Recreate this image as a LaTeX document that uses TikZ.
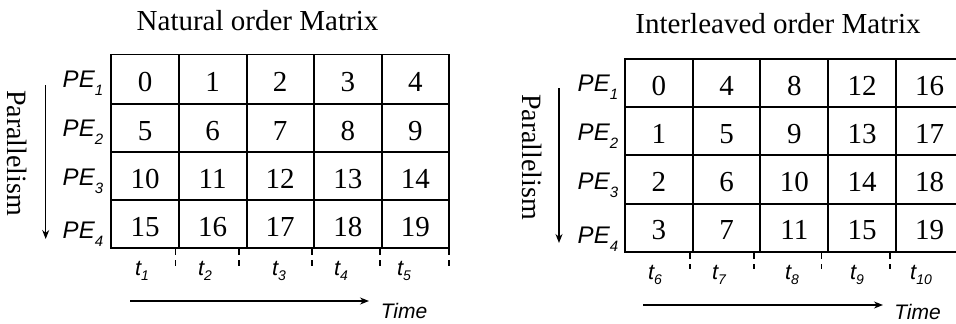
\documentclass[tikz,border=0pt]{standalone}
\usepackage{fontspec}
\setmainfont{Liberation Serif}
\newfontfamily\labfont{Liberation Sans}
\usetikzlibrary{arrows.meta}
\newcommand\pesub[1]{\raisebox{-8pt}{\fontsize{15}{15}\selectfont #1}}
\newcommand\tsub[1]{\raisebox{-5pt}{\fontsize{14}{14}\selectfont #1}}
\begin{document}
\begin{tikzpicture}[x=1pt,y=-1pt,line width=1.8pt,
  titlelab/.style={anchor=base,inner sep=0pt,font=\fontsize{29}{31}\selectfont},
  cellnum/.style={anchor=base,inner sep=0pt,font=\fontsize{29}{31}\selectfont},
  pelab/.style={anchor=base east,inner sep=0pt,font=\labfont\itshape\fontsize{24}{26}\selectfont},
  tlab/.style={anchor=base,inner sep=0pt,font=\labfont\itshape\fontsize{22}{24}\selectfont},
  timelab/.style={anchor=base,inner sep=0pt,font=\labfont\itshape\fontsize{21}{23}\selectfont},
  parlab/.style={rotate=-90,inner sep=0pt,font=\fontsize{28}{30}\selectfont},
  tickline/.style={line width=1.3pt,dash pattern=on 6pt off 5pt},
  flowarrow/.style={line width=1.4pt,-{Stealth[length=9pt,width=7pt]}}]
\useasboundingbox (0,0) rectangle (956,324);

% natural order matrix
\node[titlelab] (ntitle) at (257.5,30) {Natural order Matrix};
\draw (111,54.5) rectangle (449,248);
\foreach \x in {179,247,314,382} \draw (\x,54.5) -- (\x,248);
\foreach \y in {103.7,152,200} \draw (111,\y) -- (449,\y);
\foreach \r in {0,...,3} \foreach \c in {0,...,4} {
  \pgfmathtruncatemacro\v{5*\r+\c}
  \node[cellnum] (n\r\c) at (145+67.6*\c,91.7+48.4*\r) {\v};
}
\node[pelab] (npe1) at (104,87.3) {PE\pesub{1}};
\node[pelab] (npe2) at (104,136.7) {PE\pesub{2}};
\node[pelab] (npe3) at (104,185.5) {PE\pesub{3}};
\node[pelab] (npe4) at (104,238) {PE\pesub{4}};
\node[parlab] (npar) at (17,153) {Parallelism};
\coordinate (nparA) at (45.7,85);
\coordinate (nparB) at (45.7,239);
\draw[flowarrow] (nparA) -- (nparB);
\foreach \x in {175.7,239,312,380,449} \draw[tickline] (\x,249) -- (\x,266);
\node[tlab] (nt1) at (142,275) {t\tsub{1}};
\node[tlab] (nt2) at (205,275) {t\tsub{2}};
\node[tlab] (nt3) at (279,275) {t\tsub{3}};
\node[tlab] (nt4) at (341,275) {t\tsub{4}};
\node[tlab] (nt5) at (404,275) {t\tsub{5}};
\coordinate (ntimeA) at (130,301);
\coordinate (ntimeB) at (369,301);
\draw[flowarrow] (ntimeA) -- (ntimeB);
\node[timelab] (ntime) at (404,318) {Time};

% interleaved order matrix
\node[titlelab] (ititle) at (778,33.3) {Interleaved order Matrix};
\draw (956,59.3) -- (625,59.3) -- (625,252.3) -- (956,252.3);
\foreach \x in {692.7,760.3,828,895.7} \draw (\x,59.3) -- (\x,252.3);
\foreach \y in {107,155.3,203.7} \draw (625,\y) -- (956,\y);
\foreach \r in {0,...,3} \foreach \c in {0,...,4} {
  \pgfmathtruncatemacro\v{4*\c+\r}
  \node[cellnum] (i\r\c) at (658.9+67.7*\c,95+48.3*\r) {\v};
}
\node[pelab] (ipe1) at (619,91) {PE\pesub{1}};
\node[pelab] (ipe2) at (619,140) {PE\pesub{2}};
\node[pelab] (ipe3) at (619,189) {PE\pesub{3}};
\node[pelab] (ipe4) at (619,243) {PE\pesub{4}};
\node[parlab] (ipar) at (532,157) {Parallelism};
\coordinate (iparA) at (559,88);
\coordinate (iparB) at (559,243);
\draw[flowarrow] (iparA) -- (iparB);
\foreach \x in {690,754,821.7,890} \draw[tickline] (\x,253) -- (\x,269);
\node[tlab] (it6) at (655,279) {t\tsub{6}};
\node[tlab] (it7) at (719,279) {t\tsub{7}};
\node[tlab] (it8) at (792,279) {t\tsub{8}};
\node[tlab] (it9) at (857,279) {t\tsub{9}};
\node[tlab] (it10) at (921,279) {t\tsub{10}};
\coordinate (itimeA) at (643,305);
\coordinate (itimeB) at (883,305);
\draw[flowarrow] (itimeA) -- (itimeB);
\node[timelab] (itime) at (917.5,319) {Time};
\end{tikzpicture}
\end{document}
